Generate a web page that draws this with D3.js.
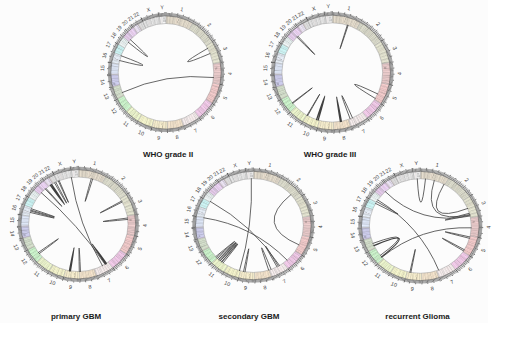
<!DOCTYPE html>
<html><head><meta charset="utf-8">
<script src="https://cdn.jsdelivr.net/npm/d3@7"></script>
<style>body{margin:0;background:#fff}svg{display:block}.lbl{opacity:0.99}</style>
</head><body>
<script>
// ---------- data ----------
const chromosomes = ["1","2","3","4","5","6","7","8","9","10","11","12","13","14","15","16","17","18","19","20","21","22","X","Y"];
const chromLengths = [249,243,198,191,181,171,159,146,141,136,135,134,115,107,103,90,81,78,59,63,48,51,155,59]; // Mb
const chromColors = ["#996600","#666600","#99991e","#cc0000","#ff0000","#ff00cc","#ffcccc","#ff9900","#ffcc00","#ffff00","#ccff00","#00ff00","#358000","#0000cc","#6699ff","#99ccff","#00ffff","#ccffff","#9900cc","#cc33ff","#cc99ff","#666666","#999999","#cccccc"];
// cytoband stain per 5 Mb block: 0 none, 1 light, 2 mid, 3 dark, c centromere, v heterochromatin
const bandPatterns = [
 "12310213120213121201c1vv12131212011312012103121201",
 "1212031201210312131202c12120311201210312031202101",
 "12011312021312c1201231201130201231201130",
 "11220312v3v1c120312011312130221131203010",
 "110213120c21130213120122130211130213",
 "1213011213c12130112130212130201120",
 "1112031102c110312012213012201130",
 "12031201c120311203120213012010",
 "1203110c3vv110213012201130201",
 "110213c1201130211020311202103",
 "1201031c1201130211030201130",
 "1102031c1203110203120113020",
 "cc11021302110312030112",
 "cc1v1v1301120312011302",
 "cc120113021102130112",
 "1102131cvv110213011",
 "1102c110213021103",
 "1201c120311203102",
 "1102c1102130",
 "11021c1102130",
 "cc11021302",
 "cc110211031",
 "1102130211c12130112031201120311",
 "110c11vvvvv1"
];
const panelTitles = ["WHO grade II","WHO grade III","primary GBM","secondary GBM","recurrent Glioma"];
// links: [chrA, MbA, chrB, MbB, samples]
const linksGradeII = [
 ["4",137,"13",34,1],
 ["18",70,"19",25,1],
 ["16",36,"16",87,1],
 ["3",30,"3",88,1]
];
const linksGradeIII = [
 ["1",150,"1",158,1],
 ["19",55,"20",8,1],
 ["5",116,"5",167,1],
 ["12",45,"12",52,1],
 ["10",125,"10",132,1],
 ["10",12,"10",28,2],
 ["8",70,"8",80,2],
 ["7",115,"7",140,1]
];
const linksPrimaryGBM = [
 ["1",130,"1",145,1],
 ["3",30,"3",42,1],
 ["4",20,"4",35,1],
 ["7",22,"7",32,2],
 ["X",146,"7",69,1],
 ["19",25,"7",39,1],
 ["20",20,"20",30,1],
 ["21",20,"21",35,2],
 ["22",20,"22",35,1],
 ["X",10,"X",20,1],
 ["16",40,"16",55,1],
 ["16",65,"16",80,1],
 ["12",45,"12",60,1],
 ["9",92,"9",102,2],
 ["8",138,"9",3,1]
];
const linksSecondaryGBM = [
 ["Y",40,"10",9,1],
 ["18",8,"7",46,1],
 ["15",100,"6",124,1],
 ["2",172,"5",105,1],
 ["11",55,"11",70,1],
 ["11",75,"11",90,1],
 ["11",95,"11",110,1],
 ["11",112,"11",128,1],
 ["12",5,"12",18,1],
 ["9",95,"9",110,1],
 ["7",140,"8",5,1],
 ["7",60,"7",75,1]
];
const linksRecurrent = [
 ["Y",30,"1",50,1],
 ["1",137,"3",165,1],
 ["1",240,"3",97,1],
 ["3",150,"3",170,1],
 ["20",5,"3",180,1],
 ["18",30,"7",137,1],
 ["12",20,"4",105,1],
 ["12",25,"13",30,2],
 ["12",45,"13",55,1],
 ["17",70,"18",10,1],
 ["5",10,"5",25,1],
 ["5",155,"5",170,1],
 ["9",105,"9",115,1]
];
const panelLinks = [linksGradeII, linksGradeIII, linksPrimaryGBM, linksSecondaryGBM, linksRecurrent];

// ---------- layout ----------
const W = 532, H = 358;
const panels = [
 {cx:166, cy:72.5, sx:0.975, sy:1.0, tx:168, ty:157},
 {cx:332.3, cy:72.5, sx:1.028, sy:1.013, tx:330, ty:157},
 {cx:78.3, cy:224.3, sx:1.015, sy:0.965, tx:76, ty:318.5},
 {cx:253.3, cy:225.5, sx:1.022, sy:0.958, tx:249, ty:318.5},
 {cx:420.3, cy:226, sx:1.04, sy:0.965, tx:417.5, ty:318.5}
];
const R_IN = 49, R_BAND = 56.6, R_TICK = 59.6, R_LABEL = 65.5;

const svg = d3.select("body").append("svg").attr("width", W).attr("height", H);
svg.append("rect").attr("width", W).attr("height", H).attr("fill", "#ffffff");
svg.append("rect").attr("width", 488).attr("height", 323).attr("fill", "#fcfcfc");

const gapMb = 1.2;
const starts = [];
let acc = 0;
chromLengths.forEach((l) => { starts.push(acc + gapMb / 2); acc += l + gapMb; });
const angle = d3.scaleLinear().domain([0, acc]).range([0, 2 * Math.PI]);
const idx = c => chromosomes.indexOf(c);
const pos = (c, mb) => angle(starts[idx(c)] + Math.min(mb, chromLengths[idx(c)]));
const polar = (a, r) => [r * Math.sin(a), -r * Math.cos(a)];
const widthScale = d3.scaleLinear().domain([1, 2]).range([0.8, 1.3]);
const bandFill = {"1": "rgba(130,130,130,0.25)", "2": "rgba(110,110,110,0.42)", "3": "rgba(80,80,80,0.6)", "c": "rgba(150,110,110,0.4)", "v": "rgba(40,40,40,0.85)"};
const arc = d3.arc();

panels.forEach((p, pi) => {
  const g = svg.append("g").attr("transform", `translate(${p.cx},${p.cy}) scale(${p.sx},${p.sy})`);
  const lg = g.append("g").attr("class", "lbl");

  chromosomes.forEach((c, i) => {
    const a0 = angle(starts[i]), a1 = angle(starts[i] + chromLengths[i]);
    g.append("path").attr("d", arc({innerRadius: R_IN, outerRadius: R_BAND, startAngle: a0, endAngle: a1}))
      .attr("fill", d3.interpolateRgb(chromColors[i], "#ffffff")(0.83));
    const pat = bandPatterns[i];
    for (let k = 0; k < pat.length; k++) {
      const ch = pat[k];
      if (ch === "0") continue;
      const s = k * 5 + 1; if (s >= chromLengths[i]) break;
      const e = Math.min(s + (ch === "v" ? 2.2 : 2.6), chromLengths[i]);
      let ri = R_IN, ro = R_BAND;
      if (ch === "v") { ri = R_IN + 1.5 + (k % 2) * 2.6; ro = ri + 2.2; }
      g.append("path").attr("d", arc({innerRadius: ri, outerRadius: ro, startAngle: angle(starts[i] + s), endAngle: angle(starts[i] + e)}))
        .attr("fill", bandFill[ch]);
    }
    d3.range(0, chromLengths[i], 10).forEach(mb => {
      const a = angle(starts[i] + mb);
      const major = mb % 50 === 0;
      const [x1, y1] = polar(a, R_BAND), [x2, y2] = polar(a, major ? R_TICK + 0.9 : R_TICK);
      g.append("line").attr("x1", x1).attr("y1", y1).attr("x2", x2).attr("y2", y2)
        .attr("stroke", "#3f3f3f").attr("stroke-width", major ? 0.7 : 0.62);
    });
    const am = angle(starts[i] + chromLengths[i] / 2);
    const [lx, ly] = polar(am, R_LABEL);
    let deg = am * 180 / Math.PI;
    if (deg > 90 && deg < 270) deg -= 180;
    lg.append("text").attr("x", lx).attr("y", ly)
      .attr("transform", `rotate(${deg},${lx},${ly})`)
      .attr("text-anchor", "middle").attr("dominant-baseline", "central")
      .attr("font-family", "Liberation Sans, Arial, sans-serif").attr("font-size", 5.4)
      .attr("fill", "#3a3a3a").text(c);
  });
  g.append("circle").attr("r", R_IN).attr("fill", "none").attr("stroke", "#8a8a8a").attr("stroke-width", 0.45);
  g.append("circle").attr("r", R_BAND).attr("fill", "none").attr("stroke", "#555").attr("stroke-width", 0.6);
  chromosomes.forEach((c, i) => {
    const a = angle(starts[i] - gapMb / 2);
    const [x1, y1] = polar(a, R_IN), [x2, y2] = polar(a, R_BAND);
    g.append("line").attr("x1", x1).attr("y1", y1).attr("x2", x2).attr("y2", y2).attr("stroke", "#888").attr("stroke-width", 0.45);
  });

  g.selectAll("path.link").data(panelLinks[pi]).join("path").attr("class", "link")
    .attr("d", d => {
      const [x0, y0] = polar(pos(d[0], d[1]), R_IN);
      const [x1, y1] = polar(pos(d[2], d[3]), R_IN);
      const path = d3.path();
      path.moveTo(x0, y0);
      path.quadraticCurveTo(0, 0, x1, y1);
      return path.toString();
    })
    .attr("fill", "none").attr("stroke", "#404040").attr("stroke-width", d => widthScale(d[4]))
    .attr("stroke-linecap", "round");

  svg.append("text").attr("x", p.tx).attr("y", p.ty).attr("text-anchor", "middle")
    .attr("font-family", "Liberation Sans, Arial, sans-serif").attr("font-weight", "bold")
    .attr("font-size", 8).attr("fill", "#1a1a1a").text(panelTitles[pi]);
});
</script>
</body></html>
